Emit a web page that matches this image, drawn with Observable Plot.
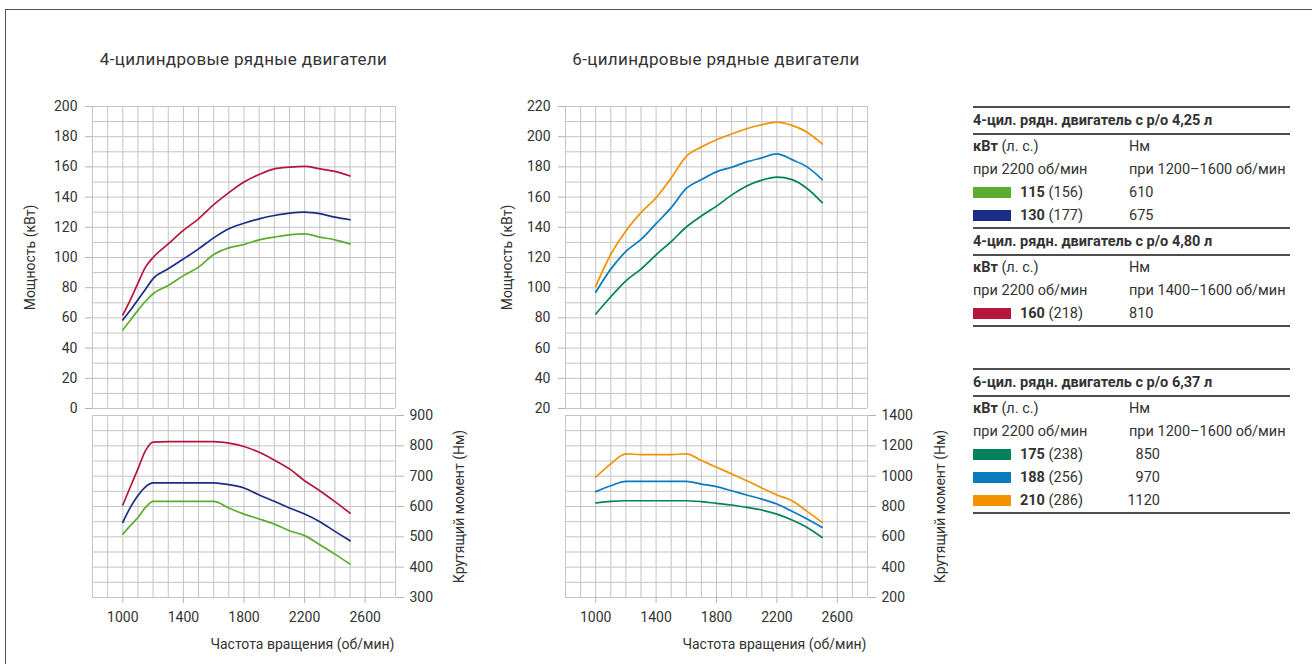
<!DOCTYPE html>
<html><head><meta charset="utf-8">
<script src="https://cdn.jsdelivr.net/npm/d3@7"></script>
<script src="https://cdn.jsdelivr.net/npm/@observablehq/plot@0.6"></script>
<style>
body{margin:0;background:#fff;font-family:Roboto,"DejaVu Sans",sans-serif;color:#333;}
#root{position:relative;width:1312px;height:664px;overflow:hidden;background:#fff;}
.frame{position:absolute;left:5px;top:9px;width:1400px;height:800px;border-top:1.5px solid #555;border-left:1.5px solid #555;}
.title{position:absolute;top:49px;height:20px;line-height:20px;font-size:17px;letter-spacing:0.35px;text-align:center;white-space:nowrap;color:#333;}
.plot{position:absolute;}
.legend{position:absolute;left:973px;top:106px;width:317px;font-size:14.5px;color:#333;}
.grp{border-top:2px solid #4d4d4d;}
.grp.last{border-bottom:2px solid #4d4d4d;}
.hdr{height:25px;line-height:25px;font-weight:bold;border-bottom:2px solid #4d4d4d;white-space:nowrap;}
.row{position:relative;height:23px;line-height:23px;white-space:nowrap;}
.c1{position:absolute;left:0;}
.c2{position:absolute;left:156px;}
.kw{position:absolute;left:0;width:110px;text-align:right;}
.nmr{position:absolute;left:0;width:187px;text-align:right;}
.sw{position:absolute;left:0;top:6px;width:38px;height:11px;}
</style>
</head><body>
<div id="root"><div class="frame"></div></div>
<script>
// ---------- data ----------
const rpm4 = [1000,1050,1100,1150,1200,1300,1400,1500,1600,1700,1800,1900,2000,2100,2200,2300,2400,2500];
const power4_115 = [52,58.5,65,71,76,81.5,88,93.6,102,106.4,108.6,111.7,113.5,115,115.7,113.5,111.7,109];
const power4_130 = [58.7,65,72,79,86,92.5,99,105.7,113,119,122.7,125.6,127.8,129.4,130,129,126.7,125];
const power4_160 = [62,72,83,93.6,100,109,118,125.6,135,143,150,155,158.7,159.8,160.3,158.7,157,154];
const torque4_115 = [509,537,564,597,617,617,617,617,617,595,575,559,542,520,504,474,443,410];
const torque4_130 = [548,597,636,665,678,678,678,678,678,672,661,638,617,595,575,550,518,487];
const torque4_160 = [605,665,724,784,812,814,814,814,814,809,798,779,753,724,685,652,616,578];

const rpm6 = [1000,1100,1200,1300,1400,1500,1600,1700,1800,1900,2000,2100,2200,2300,2400,2500];
const power6_175 = [82.6,94,104.6,112.3,121.8,130.5,140.2,147.5,154,161.3,167.3,171.2,173.2,171.6,165.7,156.3];
const power6_188 = [97,112.3,124,132,142.4,153,165.7,171.6,176.7,179.8,183.3,186,188.6,184.8,180,171.6];
const power6_210 = [100.9,122,137.6,149.7,159.6,172.7,187,193.2,198,201.8,205.3,207.9,209.7,207.5,203,195.2];
const torque6_175 = [823,834,838,838,838,838,838,832,821,810,794,777,750,711,662,596];
const torque6_188 = [898,937,966,966,966,966,966,948,931,904,876,849,816,768,717,662];
const torque6_210 = [993,1081,1147,1142,1142,1142,1147,1103,1059,1015,970,922,876,838,768,695];

const xTicks = [1000,1400,1800,2200,2600];
const yTicksPower4 = [0,20,40,60,80,100,120,140,160,180,200];
const yTicksPower6 = [20,40,60,80,100,120,140,160,180,200,220];
const yTicksTorque4 = [300,400,500,600,700,800,900];
const yTicksTorque6 = [200,400,600,800,1000,1200,1400];

const titles = ["4-цилиндровые рядные двигатели","6-цилиндровые рядные двигатели"];
const labelPower = "Мощность (кВт)";
const labelTorque = "Крутящий момент (Нм)";
const labelRpm = "Частота вращения (об/мин)";

const seriesNames = ["115","130","160","175","188","210"];
const seriesColors = ["#5aad2e","#1b2d84","#b7163b","#00825a","#0a7bc1","#f39200"];

const legendTitles = ["4-цил. рядн. двигатель с р/о 4,25 л","4-цил. рядн. двигатель с р/о 4,80 л","6-цил. рядн. двигатель с р/о 6,37 л"];
const legendNmRange = ["при 1200–1600 об/мин","при 1400–1600 об/мин","при 1200–1600 об/мин"];
const legendKw = [115,130,160,175,188,210];
const legendHp = [156,177,218,238,256,286];
const legendNm = [610,675,810,850,970,1120];
const legendGroupOf = [0,0,1,2,2,2];

// ---------- helpers ----------
const gridColor = "#c4c4c4";
const tickColor = "#b4b4b4";
const root = document.getElementById("root");

function table(rpm, arrays, names) {
  const out = [];
  arrays.forEach((arr, i) => arr.forEach((v, j) => out.push({rpm: rpm[j], v, s: names[i]})));
  return out;
}

function panel(o) {
  const xGrid = d3.range(800, 2801, 100);
  const yGrid = d3.range(o.ydomain[0], o.ydomain[1] + 0.001, o.gridStep);
  const marks = [
    Plot.ruleX(xGrid, {stroke: gridColor, strokeWidth: 1}),
    Plot.ruleY(yGrid, {stroke: gridColor, strokeWidth: 1}),
    Plot.axisY({anchor: o.yanchor, ticks: o.yticks, tickFormat: "d", tickSize: o.yanchor === "left" ? 7 : 8,
      tickPadding: o.yanchor === "left" ? 8 : 6, stroke: tickColor, label: o.ylabel, labelAnchor: "center",
      labelOffset: o.labelOffset, labelArrow: false})
  ];
  if (o.xaxis) {
    marks.push(Plot.axisX({ticks: xTicks, tickFormat: "d", tickSize: 6, tickPadding: 9, stroke: tickColor,
      label: null}));
    marks.push(Plot.text([labelRpm], {frameAnchor: "bottom-right", textAnchor: "end", lineAnchor: "bottom",
      dx: -1, dy: 51, fill: "#333"}));
  } else {
    marks.push(Plot.axisX({ticks: [], label: null}));
  }
  const data = table(o.rpm, o.series, o.names);
  o.names.forEach((n) => {
    marks.push(Plot.line(data.filter(d => d.s === n), {x: "rpm", y: "v", stroke: seriesColors[seriesNames.indexOf(n)],
      strokeWidth: 1.7, curve: "monotone-x"}));
  });
  const svg = Plot.plot({
    width: o.width, height: o.height,
    marginLeft: o.ml, marginRight: o.mr, marginTop: o.mt, marginBottom: o.mb,
    x: {domain: [800, 2800]},
    y: {domain: o.ydomain},
    style: {fontFamily: "Roboto, sans-serif", fontSize: "14px", color: "#333", background: "transparent", overflow: "visible"},
    marks
  });
  svg.classList.add("plot");
  svg.style.left = o.left + "px";
  svg.style.top = o.top + "px";
  svg.style.position = "absolute";
  root.appendChild(svg);
}

panel({left: 0, top: 96, width: 420, height: 330, ml: 92, mr: 25, mt: 10, mb: 18,
  ydomain: [0, 200], gridStep: 10, yticks: yTicksPower4, yanchor: "left", ylabel: labelPower, labelOffset: 67,
  rpm: rpm4, series: [power4_115, power4_130, power4_160], names: ["115","130","160"]});
panel({left: 0, top: 400, width: 480, height: 264, ml: 92, mr: 85, mt: 15, mb: 67,
  ydomain: [300, 900], gridStep: 50, yticks: yTicksTorque4, yanchor: "right", ylabel: labelTorque, labelOffset: 68, xaxis: true,
  rpm: rpm4, series: [torque4_115, torque4_130, torque4_160], names: ["115","130","160"]});
panel({left: 470, top: 96, width: 420, height: 330, ml: 95, mr: 23, mt: 10, mb: 18,
  ydomain: [20, 220], gridStep: 10, yticks: yTicksPower6, yanchor: "left", ylabel: labelPower, labelOffset: 63,
  rpm: rpm6, series: [power6_175, power6_188, power6_210], names: ["175","188","210"]});
panel({left: 470, top: 400, width: 490, height: 264, ml: 95, mr: 93, mt: 15, mb: 67,
  ydomain: [200, 1400], gridStep: 100, yticks: yTicksTorque6, yanchor: "right", ylabel: labelTorque, labelOffset: 77, xaxis: true,
  rpm: rpm6, series: [torque6_175, torque6_188, torque6_210], names: ["175","188","210"]});

// titles
[[92, 395], [565, 867]].forEach(([a, b], i) => {
  const t = document.createElement("div");
  t.className = "title";
  t.textContent = titles[i];
  t.style.left = a + "px";
  t.style.width = (b - a) + "px";
  root.appendChild(t);
});

// legend
const legend = document.createElement("div");
legend.className = "legend";
root.appendChild(legend);
legendTitles.forEach((title, g) => {
  const grp = document.createElement("div");
  const isSix = title.startsWith("6");
  grp.className = "grp" + (g >= 1 ? " last" : "");
  if (isSix) grp.style.marginTop = "41px";
  let html = `<div class="hdr">${title}</div>`;
  html += `<div class="row"><span class="c1"><b>кВт</b> (л. с.)</span><span class="c2">Нм</span></div>`;
  html += `<div class="row"><span class="c1">при 2200 об/мин</span><span class="c2">${legendNmRange[g]}</span></div>`;
  legendKw.forEach((kw, i) => {
    if (legendGroupOf[i] !== g) return;
    const nm = isSix ? `<span class="nmr">${legendNm[i]}</span>` : `<span class="c2">${legendNm[i]}</span>`;
    html += `<div class="row"><span class="sw" style="background:${seriesColors[i]}"></span>` +
      `<span class="kw"><b>${kw}</b> (${legendHp[i]})</span>${nm}</div>`;
  });
  grp.innerHTML = html;
  legend.appendChild(grp);
});
</script>
</body></html>
